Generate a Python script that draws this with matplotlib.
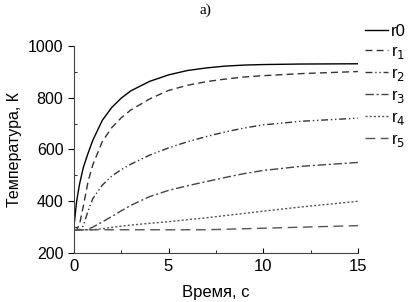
import matplotlib
matplotlib.use("Agg")
import matplotlib.pyplot as plt
from matplotlib.ticker import MultipleLocator

plt.rcParams['font.family'] = ['Liberation Sans', 'DejaVu Sans']

# time, s
t = [0, 0.15, 0.3, 0.5, 0.75, 1, 1.5, 2, 2.5, 3, 4, 5, 6, 7, 8, 9, 10, 12, 15]

# temperature, K
r0 = [297, 400, 465, 530, 585, 635, 712, 762, 798, 826, 863, 888, 905, 915, 922, 926, 928, 930, 931]
r1 = [290, 290, 310, 380, 475, 540, 630, 684, 722, 752, 795, 828, 848, 862, 872, 880, 885, 893, 901]
r2 = [290, 290, 290, 305, 362, 410, 462, 497, 522, 543, 578, 606, 630, 650, 668, 683, 695, 709, 721]
r3 = [290, 290, 290, 288, 292, 300, 320, 341, 363, 384, 418, 442, 460, 476, 492, 507, 519, 535, 550]
r4 = [290, 290, 290, 290, 290, 290, 294, 299, 304, 308, 315, 321, 329, 336, 345, 353, 362, 378, 400]
r5 = [290, 290, 290, 290, 290, 290, 290, 290, 290, 290, 290, 290, 290, 290, 292, 294, 296, 300, 306]

labels = ['r0', 'r$_1$', 'r$_2$', 'r$_3$', 'r$_4$', 'r$_5$']
series = [r0, r1, r2, r3, r4, r5]
styles = ['-', (0, (5, 3)), (0, (5, 2, 1, 2, 1, 2)), (0, (6, 2, 1.5, 2)),
          (0, (1.5, 1.5)), (0, (7, 4))]
colors = ['black', '#333333', '#333333', '#444444', '#555555', '#555555']

fig = plt.figure(figsize=(4.1, 3.02), dpi=100)
ax = fig.add_axes([0.180, 0.162, 0.693, 0.686])

for y, lab, ls, c in zip(series, labels, styles, colors):
    ax.plot(t, y, linestyle=ls, color=c, lw=1.0, label=lab)

ax.set_xlim(0, 15)
ax.set_ylim(200, 1000)
ax.xaxis.set_major_locator(MultipleLocator(5))
ax.xaxis.set_minor_locator(MultipleLocator(2.5))
ax.yaxis.set_major_locator(MultipleLocator(200))
ax.yaxis.set_minor_locator(MultipleLocator(100))
ax.spines['top'].set_visible(False)
ax.spines['right'].set_visible(False)
for s in ['left', 'bottom']:
    ax.spines[s].set_color('#444444')
ax.tick_params(axis='x', which='both', direction='in', labelsize=12, pad=4)
ax.tick_params(axis='y', which='major', direction='out', labelsize=11.5, length=4)
ax.tick_params(axis='y', which='minor', direction='in', length=2)
ax.tick_params(axis='x', which='minor', length=2)

ax.set_xlabel('Время, с', fontsize=12, labelpad=8)
ax.set_ylabel('Температура, К', fontsize=11.5)

fig.text(0.5, 0.99, 'a)', ha='center', va='top', fontsize=11, family='Liberation Serif')

fig.legend(loc='upper left', bbox_to_anchor=(0.89, 0.92), frameon=False, fontsize=12,
           handlelength=1.4, handletextpad=0.15, labelspacing=0.3,
           borderpad=0, borderaxespad=0)

fig.savefig('out.png', dpi=100)
